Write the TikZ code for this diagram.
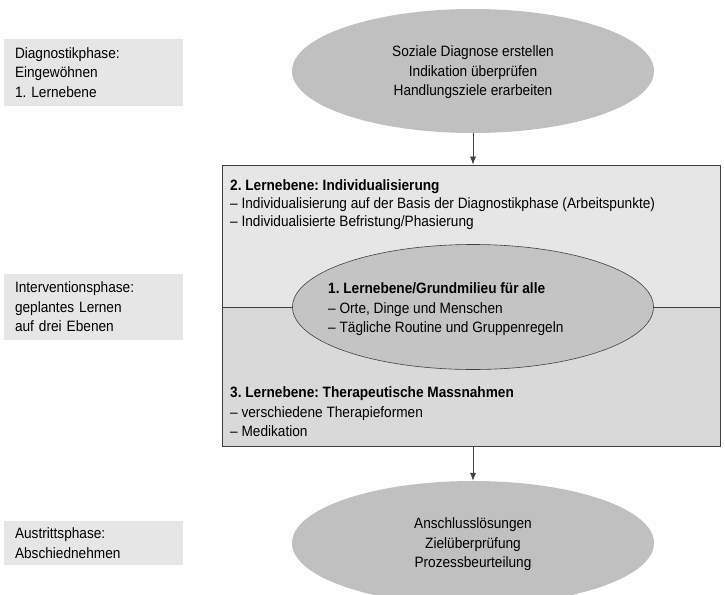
\documentclass[tikz,border=0pt]{standalone}
\usepackage{fontspec}
\setmainfont{Liberation Sans}[FakeStretch=0.91]
\usepackage{tikz}
\definecolor{cl}{RGB}{230, 230, 230}
\definecolor{cm}{RGB}{217, 217, 217}
\definecolor{ce}{RGB}{192, 192, 192}
\definecolor{ci}{RGB}{196, 196, 196}
\definecolor{cb}{RGB}{64, 64, 64}
\usetikzlibrary{shapes.geometric}
\usetikzlibrary{arrows.meta}
\frenchspacing

\begin{document}
\begin{tikzpicture}[every node/.style={inner sep=0pt, font=\fontsize{15pt}{19.5pt}\selectfont},
  phase/.style={rectangle, fill=cl, minimum width=179pt, text width=157pt, align=left},
  goal/.style={ellipse, fill=ce, minimum width=362pt, minimum height=124pt, align=center, text depth=-10pt},
  level/.style={rectangle, draw=cb, line width=0.8pt, minimum width=498pt},
  arr/.style={line width=0.7pt, color=cb, -{Latex[length=8pt,width=6pt]}}]
\useasboundingbox (0pt, 0pt) rectangle (725pt, -594pt);
\node (p1) [phase, minimum height=67pt] at (93.5pt, -72.5pt) {Diagnostikphase:\\Eingewöhnen\\1. Lernebene};
\node (p2) [phase, minimum height=66pt] at (93.5pt, -307pt) {Interventionsphase:\\geplantes Lernen\\auf drei Ebenen};
\node (p3) [phase, minimum height=44pt] at (93.5pt, -543pt) {Austrittsphase:\\Abschiednehmen};
\node (e1) [goal] at (473pt, -71pt) {Soziale Diagnose erstellen\\Indikation überprüfen\\Handlungsziele erarbeiten};
\node (up) [level, fill=cl, minimum height=142pt] at (471pt, -236pt) {};
\node (lo) [level, fill=cm, minimum height=139pt] at (471pt, -376.5pt) {};
\node (e2) [goal, fill=ci, draw=cb, line width=0.6pt, minimum width=361pt, minimum height=125pt] at (473pt, -307pt) {};
\node (t1) [anchor=west, align=left] at (328pt, -309.5pt) {\textbf{1. Lernebene/Grundmilieu für alle}\\– Orte, Dinge und Menschen\\– Tägliche Routine und Gruppenregeln};
\node (t2) [anchor=west, align=left, font=\fontsize{15pt}{18pt}\selectfont] at (230pt, -205pt) {\textbf{2. Lernebene: Individualisierung}\\– Individualisierung auf der Basis der Diagnostikphase (Arbeitspunkte)\\– Individualisierte Befristung/Phasierung};
\node (t3) [anchor=west, align=left] at (230pt, -412pt) {\textbf{3. Lernebene: Therapeutische Massnahmen}\\– verschiedene Therapieformen\\– Medikation};
\node (e3) [goal] at (473pt, -543pt) {Anschlusslösungen\\Zielüberprüfung\\Prozessbeurteilung};
\draw [arr] (e1) to (e1 |- up.north);
\draw [arr] (lo.south -| e3) to (e3);
\end{tikzpicture}
\end{document}
